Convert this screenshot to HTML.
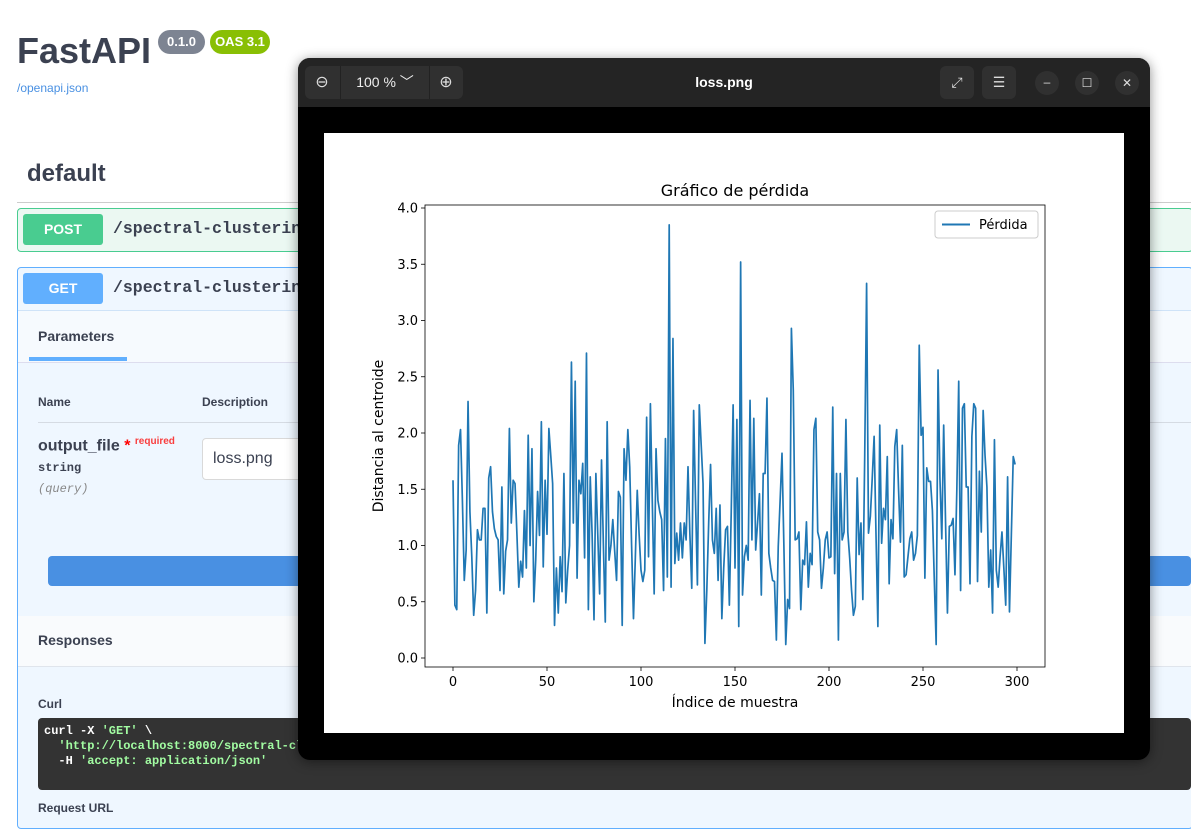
<!DOCTYPE html>
<html><head><meta charset="utf-8"><style>
body{margin:0;width:1191px;height:815px;overflow:hidden;background:#fff;font-family:"Liberation Sans",sans-serif;position:relative}
.a{position:absolute}
.mono{font-family:"Liberation Mono","DejaVu Sans Mono",monospace;font-weight:bold}
</style></head><body>
<div class="a" style="left:17px;top:30px;font-size:36px;font-weight:bold;color:#3b4151;font-family:'Liberation Sans',sans-serif">FastAPI</div>
<div class="a" style="left:158px;top:30px;width:47px;height:24px;border-radius:12px;background:#7d8492;color:#fff;font-size:13px;font-weight:bold;text-align:center;line-height:24px">0.1.0</div>
<div class="a" style="left:210px;top:30px;width:60px;height:24px;border-radius:12px;background:#89bf04;color:#fff;font-size:13px;font-weight:bold;text-align:center;line-height:24px">OAS 3.1</div>
<div class="a" style="left:17px;top:81px;font-size:12px;color:#4990e2">/openapi.json</div>
<div class="a" style="left:27px;top:160px;font-size:24px;font-weight:bold;color:#3b4151">default</div>
<div class="a" style="left:17px;top:202px;width:1174px;height:1px;background:#ccc"></div>
<div class="a" style="left:17px;top:208px;width:1174px;height:42px;border:1px solid #49cc90;border-radius:4px;background:#ebf8f2"></div>
<div class="a" style="left:23px;top:214px;width:80px;height:31px;border-radius:3px;background:#49cc90;color:#fff;font-weight:bold;font-size:14px;text-align:center;line-height:31px">POST</div>
<div class="a mono" style="left:113px;top:219px;font-size:16.5px;color:#3b4151">/spectral-clustering</div>
<div class="a" style="left:17px;top:267px;width:1174px;height:560px;border:1px solid #61affe;border-radius:4px;background:#eff7ff"></div>
<div class="a" style="left:23px;top:273px;width:80px;height:31px;border-radius:3px;background:#61affe;color:#fff;font-weight:bold;font-size:14px;text-align:center;line-height:31px">GET</div>
<div class="a mono" style="left:113px;top:278px;font-size:16.5px;color:#3b4151">/spectral-clustering</div>
<div class="a" style="left:18px;top:310px;width:1173px;height:51px;background:#f6fafe;border-top:1px solid #cfe3f8;border-bottom:1px solid #dde"></div>
<div class="a" style="left:38px;top:328px;font-size:14px;font-weight:bold;color:#3b4151">Parameters</div>
<div class="a" style="left:29px;top:357px;width:98px;height:4px;background:#61affe"></div>
<div class="a" style="left:38px;top:395px;font-size:12px;font-weight:bold;color:#3b4151">Name</div>
<div class="a" style="left:202px;top:395px;font-size:12px;font-weight:bold;color:#3b4151">Description</div>
<div class="a" style="left:38px;top:422px;width:1153px;height:1px;background:#d5dbe3"></div>
<div class="a" style="left:38px;top:436px;font-size:16px;font-weight:bold;color:#3b4151">output_file <span style="color:red">*</span> <sup style="color:#f93e3e;font-size:10px">required</sup></div>
<div class="a mono" style="left:38px;top:461px;font-size:12px;color:#3b4151">string</div>
<div class="a mono" style="left:38px;top:482px;font-size:12px;color:#888;font-style:italic;font-weight:normal">(query)</div>
<div class="a" style="left:202px;top:438px;width:120px;height:40px;border:1px solid #d9d9d9;border-radius:4px;background:#fff;font-size:16px;line-height:40px;padding-left:10px;color:#3b4151">loss.png</div>
<div class="a" style="left:48px;top:556px;width:1143px;height:30px;border-radius:4px;background:#4990e2"></div>
<div class="a" style="left:18px;top:616px;width:1173px;height:50px;background:#f9fbfd;border-bottom:1px solid #e0e5ec"></div>
<div class="a" style="left:38px;top:632px;font-size:14px;font-weight:bold;color:#3b4151">Responses</div>
<div class="a" style="left:38px;top:697px;font-size:12px;font-weight:bold;color:#3b4151">Curl</div>
<div class="a mono" style="left:38px;top:718px;width:1153px;height:72px;border-radius:4px;background:#333;color:#fff;font-size:12px;padding:6px;box-sizing:border-box;line-height:15px;white-space:pre">curl -X <span style="color:#a2fca2">'GET'</span> \
  <span style="color:#a2fca2">'http://localhost:8000/spectral-clustering'</span> \
  -H <span style="color:#a2fca2">'accept: application/json'</span></div>
<div class="a" style="left:38px;top:801px;font-size:12px;font-weight:bold;color:#3b4151">Request URL</div>

<div class="a" style="left:298px;top:58px;width:852px;height:702px;border-radius:12px;background:#000;overflow:hidden;box-shadow:0 2px 12px rgba(0,0,0,.45)">
 <div class="a" style="left:0;top:0;width:852px;height:49px;background:#242424"></div>
 <div class="a" style="left:7px;top:8px;width:158px;height:33px;border-radius:6px;background:#303030"></div>
 <div class="a" style="left:7px;top:8px;width:34px;height:33px;color:#ddd;text-align:center;line-height:33px;font-size:16px">⊖</div>
 <div class="a" style="left:42px;top:8px;width:88px;height:33px;color:#eee;text-align:center;line-height:33px;font-size:14px;border-left:1px solid #222;border-right:1px solid #222">100 % ﹀</div>
 <div class="a" style="left:131px;top:8px;width:34px;height:33px;color:#ddd;text-align:center;line-height:33px;font-size:16px">⊕</div>
 <div class="a" style="left:0;top:0;width:852px;text-align:center;line-height:49px;color:#fff;font-weight:bold;font-size:14px">loss.png</div>
 <div class="a" style="left:642px;top:8px;width:34px;height:33px;border-radius:6px;background:#303030;color:#ddd;text-align:center;line-height:33px;font-size:14px">⤢</div>
 <div class="a" style="left:684px;top:8px;width:34px;height:33px;border-radius:6px;background:#303030;color:#ddd;text-align:center;line-height:33px;font-size:14px">☰</div>
 <div class="a" style="left:737px;top:13px;width:24px;height:24px;border-radius:12px;background:#303030;color:#ddd;text-align:center;line-height:22px;font-size:12px">–</div>
 <div class="a" style="left:777px;top:13px;width:24px;height:24px;border-radius:12px;background:#303030;color:#ddd;text-align:center;line-height:24px;font-size:12px">☐</div>
 <div class="a" style="left:817px;top:13px;width:24px;height:24px;border-radius:12px;background:#303030;color:#ddd;text-align:center;line-height:24px;font-size:12px">✕</div>
</div>

<svg class="a" id="chart" style="left:324px;top:133px" width="800" height="600" xmlns="http://www.w3.org/2000/svg" font-family="DejaVu Sans, Liberation Sans, sans-serif">
<rect width="800" height="600" fill="#fff"/>
</svg>
<script>
const yTicks=[0,0.5,1,1.5,2,2.5,3,3.5,4];
const yTickLabels=["0.0","0.5","1.0","1.5","2.0","2.5","3.0","3.5","4.0"];
const xTicks=[0,50,100,150,200,250,300];
const xTickLabels=["0","50","100","150","200","250","300"];
const seg1=[1.58,0.47,0.43,1.89,2.03,1.40,0.69,0.96,2.28,1.30,0.90,0.38,0.60,1.14,1.05,1.05,1.33,1.33,0.40,1.60,1.70,1.30,1.15,1.08,1.05,0.60,1.52,0.57,0.95,1.05,2.04,1.20,1.58,1.55,1.10,0.63,0.86,0.72,1.31,0.80,1.98,1.00,1.86,0.50,0.87,1.48,1.09,2.10,0.81,1.58,1.10,2.04,1.80,1.55,0.29,0.80,0.40,0.90,0.59,1.64,0.49,0.78,1.00,2.63,1.20,2.46,0.71,1.58,1.46,1.73,0.89,2.71,0.43,1.61,1.10,0.34];
const seg2=[1.64,1.10,0.57,1.76,1.00,0.32,2.10,0.87,1.00,1.23,0.95,0.69,1.48,1.43,0.29,1.86,1.58,2.03,1.70,1.00,0.35,0.90,1.49,1.10,0.78,0.68,0.78,2.14,0.90,2.26,1.40,0.57,1.86,1.40,1.30,1.23,0.60,1.95,0.72,3.85,0.63,2.84,0.84,1.11,0.87,1.20,0.89,1.20,1.05,1.70,1.10,0.62,2.20,1.40,0.65,2.25,1.90,1.55,0.13,0.60,1.20,1.72,1.05,0.93,1.33,0.69,1.36,0.35,0.80,1.14,1.17,0.47,1.30,2.25,0.80,2.12,0.28];
const seg3=[3.52,0.56,0.90,1.00,0.87,2.29,1.05,2.13,0.96,1.20,1.46,0.56,1.64,1.64,2.31,0.93,0.80,0.69,0.68,0.16,0.99,1.40,1.82,1.00,0.12,0.52,0.44,2.93,2.38,1.05,1.06,1.12,0.43,0.87,0.83,1.21,0.63,0.93,0.83,2.03,2.13,1.12,1.05,0.62,0.80,1.05,1.12,0.89,0.90,2.23,0.75,1.64,0.16,1.64,1.05,1.12,2.12,1.12,0.89,0.60,0.38,0.46,1.60,0.92,1.20,0.52,1.80,3.33,1.11,1.26,1.60,1.97,1.10,0.28,2.07];
const seg4=[1.02,1.33,1.23,1.79,0.66,1.23,1.06,1.88,2.03,1.50,1.03,1.89,0.72,0.74,0.90,1.06,1.12,0.87,0.93,1.09,2.78,1.98,2.05,0.71,1.69,1.57,1.57,1.31,0.70,0.12,2.56,1.60,1.06,2.07,1.20,0.40,1.17,1.18,1.24,0.74,1.50,2.46,0.60,2.22,2.26,1.52,1.52,0.66,1.97,2.26,2.22,0.68,1.66,1.12,2.20,1.80,1.52,0.63,0.96,0.40,1.94,0.78,0.63,0.90,1.12,0.80,0.47,1.61,0.41,1.10,1.79,1.72];
const lossValues=seg1.concat(seg2,seg3,seg4);
const NS="http://www.w3.org/2000/svg";
const svg=document.getElementById('chart');
const AX={l:101,t:72,r:721,b:534};
function xS(i){return 129+i*(693-129)/300;}
function yS(v){return 525-v*(525-75)/4;}
function mk(tag,attrs,parent){const e=document.createElementNS(NS,tag);for(const k in attrs)e.setAttribute(k,attrs[k]);(parent||svg).appendChild(e);return e;}
let d='';lossValues.forEach((v,i)=>{d+=(i?'L':'M')+xS(i).toFixed(2)+' '+yS(v).toFixed(2);});
const line=mk('path',{d:d,fill:'none',stroke:'#1f77b4','stroke-width':1.7,'stroke-linejoin':'round'});


const frame=mk('rect',{x:AX.l,y:AX.t,width:AX.r-AX.l,height:AX.b-AX.t,fill:'none',stroke:'#000','stroke-width':0.8});


yTicks.forEach((t,k)=>{
  const y=yS(t);
  mk('line',{x1:AX.l-4,x2:AX.l,y1:y,y2:y,stroke:'#000','stroke-width':0.8});
  const tx=mk('text',{x:AX.l-7,y:y+4.5,'text-anchor':'end','font-size':13});
  tx.textContent=yTickLabels[k];
  
  
});
xTicks.forEach((t,k)=>{
  const x=xS(t);
  mk('line',{x1:x,x2:x,y1:AX.b,y2:AX.b+4,stroke:'#000','stroke-width':0.8});
  const tx=mk('text',{x:x,y:AX.b+19,'text-anchor':'middle','font-size':13});
  tx.textContent=xTickLabels[k];
  
  
});
const title=mk('text',{x:(AX.l+AX.r)/2,y:63,'text-anchor':'middle','font-size':16});
title.textContent='Gráfico de pérdida';


const xt=mk('text',{x:(AX.l+AX.r)/2,y:574,'text-anchor':'middle','font-size':14});
xt.textContent='Índice de muestra';


const yt=mk('text',{x:0,y:0,'text-anchor':'middle','font-size':14,transform:'translate(59 303) rotate(-90)'});
yt.textContent='Distancia al centroide';


const lg=mk('g',{});


mk('rect',{x:611,y:78,width:103,height:27,rx:3,fill:'#fff',stroke:'#ccc'},lg);
mk('line',{x1:618,x2:646,y1:91.5,y2:91.5,stroke:'#1f77b4','stroke-width':2},lg);
const lt=mk('text',{x:655,y:96,'font-size':13},lg);
lt.textContent='Pérdida';


</script>
</body></html>
